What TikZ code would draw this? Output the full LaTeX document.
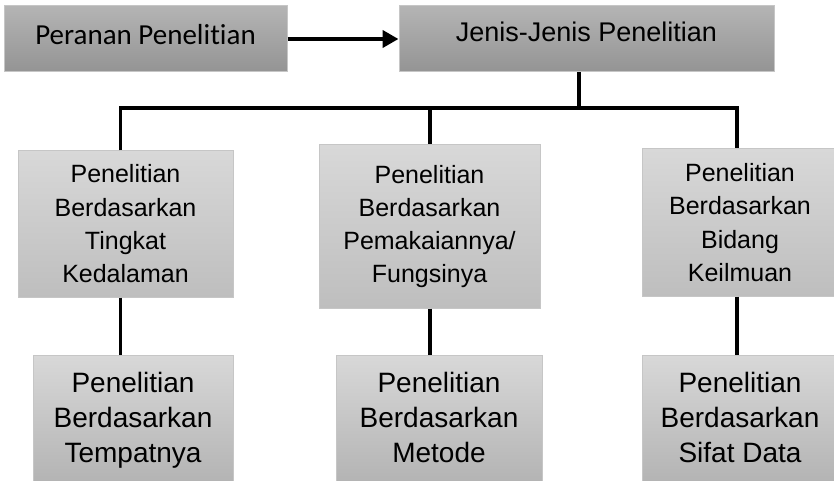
\documentclass[tikz,border=0pt]{standalone}
\usepackage{fontspec}
\setmainfont{Liberation Sans}
\newfontfamily\calfont[RawFeature={-liga}]{Carlito}
\usetikzlibrary{arrows.meta}
\definecolor{darktop}{RGB}{180,180,180}
\definecolor{darkbot}{RGB}{148,148,148}
\definecolor{lighttop}{RGB}{216,216,216}
\definecolor{lightbot}{RGB}{190,190,190}
\definecolor{edgegray}{RGB}{198,198,198}
\begin{document}
\begin{tikzpicture}[x=1pt,y=-1pt,
  topbox/.style={draw=edgegray, line width=1pt, top color=darktop, bottom color=darkbot,
    minimum height=66pt, inner sep=0pt},
  midbox/.style={draw=edgegray, line width=1pt, top color=lighttop, bottom color=lightbot,
    align=center, inner sep=0pt, font=\fontsize{25}{33.3}\selectfont},
  lowbox/.style={midbox, anchor=north, inner xsep=0pt, inner ysep=16.5pt, text depth=100pt,
    top color=lighttop, bottom color=lightbot!80!black,
    font=\fontsize{28}{35}\selectfont},
  link/.style={line width=3.5pt},
  flow/.style={line width=4.5pt, -{Triangle[length=16pt,width=17pt]}}
]
\clip (0,0) rectangle (834,481);

% top row
\node[topbox, minimum width=283pt, text height=19pt, text depth=7pt,
      font=\calfont\fontsize{29}{34}\selectfont] (peranan) at (145.5,39) {Peranan Penelitian};
\node[topbox, minimum width=375pt, text height=19pt, text depth=13pt,
      font=\fontsize{27}{32}\selectfont] (jenis) at (586.5,39) {Jenis-Jenis Penelitian};

% middle row
\node[midbox, minimum width=215pt, minimum height=146pt] (midL) at (125.5,224)
  {Penelitian\\Berdasarkan\\Tingkat\\Kedalaman};
\node[midbox, minimum width=221pt, minimum height=163pt] (midM) at (429.5,226.5)
  {Penelitian\\Berdasarkan\\Pemakaiannya/\\Fungsinya};
\node[midbox, minimum width=196pt, minimum height=147pt] (midR) at (740,222.5)
  {Penelitian\\Berdasarkan\\Bidang\\Keilmuan};

% bottom row
\node[lowbox, minimum width=200pt] (lowL) at (133,355) {Penelitian\\Berdasarkan\\Tempatnya};
\node[lowbox, minimum width=206pt] (lowM) at (439,355) {Penelitian\\Berdasarkan\\Metode};
\node[lowbox, minimum width=196pt] (lowR) at (740,355) {Penelitian\\Berdasarkan\\Sifat Data};

% connectors
\coordinate (busL) at (120.5,108);
\coordinate (busM) at (430,108);
\coordinate (busC) at (579,108);
\coordinate (busR) at (737,108);

\draw[flow] (peranan) -- (jenis);
\draw[link] (jenis.south -| busC) -- (busC);
\draw[link] (midL.north -| busL) -- (busL) -- (busR) -- (midR.north -| busR);
\draw[link] (busM) -- (midM.north -| busM);
\draw[link] (midL.south -| busL) -- (lowL.north -| busL);
\draw[link] (midM.south -| busM) -- (lowM.north -| busM);
\draw[link] (midR.south -| busR) -- (lowR.north -| busR);
\end{tikzpicture}
\end{document}
